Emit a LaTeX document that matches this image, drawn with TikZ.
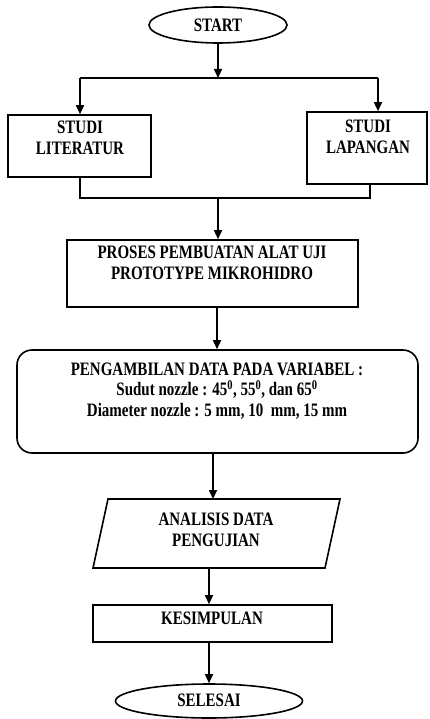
\documentclass[tikz,border=0pt]{standalone}
\usepackage{fontspec}
\setmainfont{Liberation Serif}[FakeStretch=0.79]
\usetikzlibrary{shapes.geometric,arrows.meta,calc}
\tikzset{
  shapebox/.style={draw=black, line width=1.6pt, inner sep=0pt},
  txt/.style={font=\fontsize{19}{20.5}\selectfont\bfseries, align=center, inner sep=0pt},
  conn/.style={draw=black, line width=1.6pt},
  arr/.style={conn, -{Triangle[length=9pt,width=8pt]}}
}
\begin{document}
\begin{tikzpicture}[x=1pt,y=-1pt]
\useasboundingbox (0,0) rectangle (429,719);
% shapes
\node[shapebox, ellipse, minimum width=138pt, minimum height=36pt] (start) at (218,25) {};
\node[shapebox, rectangle, minimum width=143pt, minimum height=62pt] (lit) at (79.5,146) {};
\node[shapebox, rectangle, minimum width=120pt, minimum height=72pt] (lap) at (367,148) {};
\node[shapebox, rectangle, minimum width=291pt, minimum height=67pt] (proses) at (212.5,273.5) {};
\node[shapebox, rectangle, rounded corners=15pt, minimum width=401pt, minimum height=103pt] (data) at (217.5,401.5) {};
\draw[conn] (108,499) -- (340,499) -- (325,568) -- (93,568) -- cycle;
\coordinate (anaTop) at (213,499);
\coordinate (anaBot) at (209,568);
\node[shapebox, rectangle, minimum width=239pt, minimum height=37pt] (kes) at (212.5,623.5) {};
\node[shapebox, ellipse, minimum width=187pt, minimum height=34pt] (selesai) at (209,701) {};
% texts
\node[txt] (tstart) at (218,25) {START};
\node[txt] (tlit) at (80,138) {STUDI\\LITERATUR};
\node[txt] (tlap) at (368,137) {STUDI\\LAPANGAN};
\node[txt] (tproses) at (212,263) {PROSES PEMBUATAN ALAT UJI\\PROTOTYPE MIKROHIDRO};
\node[txt] (tdata) at (217,391) {PENGAMBILAN DATA PADA VARIABEL :\\Sudut nozzle : 45\textsuperscript{0}, 55\textsuperscript{0}, dan 65\textsuperscript{0}\\Diameter nozzle : 5 mm, 10~ mm, 15 mm};
\node[txt] (tana) at (216,530) {ANALISIS DATA\\PENGUJIAN};
\node[txt] (tkes) at (212,618) {KESIMPULAN};
\node[txt] (tsel) at (209,700) {SELESAI};
% connectors
\coordinate (j1) at (218,78);
\coordinate (jl) at (80,78);
\coordinate (jr) at (378,78);
\draw[conn] (jl) -- (jr);
\draw[arr] (start.south) -- (j1);
\draw[arr] (jl) -- (jl |- lit.north);
\draw[arr] (jr) -- (jr |- lap.north);
\coordinate (kl) at (80,198);
\coordinate (kr) at (370,198);
\coordinate (k1) at (218,198);
\draw[conn] (kl |- lit.south) -- (kl) -- (kr) -- (kr |- lap.south);
\draw[arr] (k1) -- (k1 |- proses.north);
\coordinate (p1) at (217,307);
\draw[arr] (p1) -- (p1 |- data.north);
\draw[arr] (anaTop |- data.south) -- (anaTop);
\draw[arr] (anaBot) -- (anaBot |- kes.north);
\draw[arr] (selesai.north |- kes.south) -- (selesai.north);
\end{tikzpicture}
\end{document}
